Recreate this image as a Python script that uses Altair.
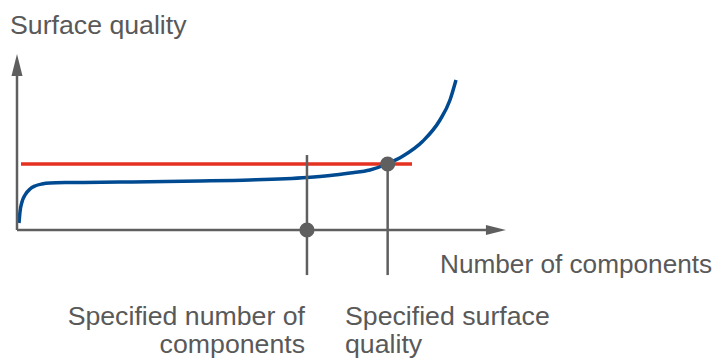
import altair as alt
import pandas as pd

# Abstract diagram units: x = number of components (0..100 = axis length),
# y = surface quality (0..100 = axis height)
X_DOMAIN = [-1.84, 142.54]
Y_DOMAIN = [-74.43, 126.14]

# Blue curve: achieved surface quality vs number of components
curve_x = [0.41, 0.61, 1.02, 1.64, 2.66, 3.68, 5.11, 6.75, 10.84, 21.06, 37.42,
           47.65, 59.30, 64.01, 68.10, 72.19, 75.66, 78.94, 83.03, 86.50, 88.55, 89.78]
curve_y = [3.98, 10.23, 15.91, 19.89, 23.30, 25.0, 26.14, 26.70, 26.99, 27.27, 27.84,
           28.41, 29.83, 30.97, 32.39, 34.09, 37.5, 42.05, 50.57, 62.5, 73.86, 85.23]

# Red line: specified surface quality
spec_quality = 37.5
spec_x_start, spec_x_end = 0.82, 80.78

# Specified points
spec_components = 59.30
spec_quality_x = 75.8

# Axes and guide lines (segments)
seg_x = [0, 0, spec_components, spec_quality_x]
seg_y = [0, 0, 42.6, spec_quality]
seg_x2 = [0, 96, spec_components, spec_quality_x]
seg_y2 = [92, 0, -25.6, -25.6]

# Arrow heads
arrow_x = [0, 97.95]
arrow_y = [93.75, 0]
arrow_shape = ["M-0.5,1L0,-1L0.5,1Z", "M-1,-0.5L1,0L-1,0.5Z"]
arrow_size = [484, 400]

# Dots
dot_x = [spec_components, spec_quality_x]
dot_y = [0, spec_quality]

# Labels
label_text = ["Surface quality", "Number of components",
              "Specified number of\ncomponents", "Specified surface\nquality"]
label_x = [-1.43, 86.50, 58.90, 67.08]
label_y = [111.65, -24.43, -53.98, -53.98]
label_align = ["left", "left", "right", "left"]
label_size = [26.7, 26.2, 26.7, 26.7]

GRAY = "#5f5f5f"
TEXT_GRAY = "#595959"
RED = "#e5311f"
BLUE = "#004a91"

xs = alt.Scale(domain=X_DOMAIN, nice=False, zero=False)
ys = alt.Scale(domain=Y_DOMAIN, nice=False, zero=False)

def X(f="x"):
    return alt.X(f"{f}:Q", scale=xs, axis=None)

def Y(f="y"):
    return alt.Y(f"{f}:Q", scale=ys, axis=None)

red_df = pd.DataFrame({"x": [spec_x_start], "x2": [spec_x_end], "y": [spec_quality]})
red = alt.Chart(red_df).mark_rule(color=RED, strokeWidth=3.5).encode(
    x=X(), x2="x2:Q", y=Y())

curve_df = pd.DataFrame({"x": curve_x, "y": curve_y, "o": range(len(curve_x))})
blue = alt.Chart(curve_df).mark_line(color=BLUE, strokeWidth=3.5, interpolate="monotone").encode(
    x=X(), y=Y(), order="o:Q")

seg_df = pd.DataFrame({"x": seg_x, "y": seg_y, "x2": seg_x2, "y2": seg_y2})
segs = alt.Chart(seg_df).mark_rule(color=GRAY, strokeWidth=2.5).encode(
    x=X(), y=Y(), x2="x2:Q", y2="y2:Q")

layers = [red, blue, segs]
for ax, ay, shp, sz in zip(arrow_x, arrow_y, arrow_shape, arrow_size):
    adf = pd.DataFrame({"x": [ax], "y": [ay]})
    layers.append(alt.Chart(adf).mark_point(shape=shp, size=sz, filled=True, color=GRAY,
                                            opacity=1, strokeWidth=0).encode(x=X(), y=Y()))

dot_df = pd.DataFrame({"x": dot_x, "y": dot_y})
layers.append(alt.Chart(dot_df).mark_circle(size=230, color=GRAY, opacity=1).encode(x=X(), y=Y()))

for t, tx, ty, al, fs in zip(label_text, label_x, label_y, label_align, label_size):
    tdf = pd.DataFrame({"x": [tx], "y": [ty], "t": [t]})
    layers.append(alt.Chart(tdf).mark_text(
        align=al, baseline="alphabetic", font="Liberation Sans", fontSize=fs,
        color=TEXT_GRAY, lineBreak="\n", lineHeight=28).encode(x=X(), y=Y(), text="t:N"))

chart = alt.layer(*layers).properties(
    width=706, height=353, padding=0, autosize=alt.AutoSizeParams(type="none"),
    background="white"
).configure_view(stroke=None)

chart.save("out.html", embed_options={"renderer": "svg", "actions": False})
